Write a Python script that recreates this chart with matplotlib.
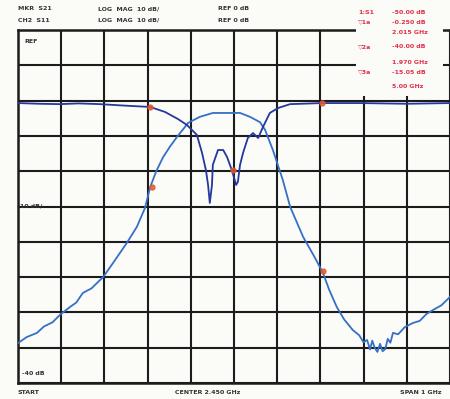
import matplotlib
matplotlib.use('Agg')
import matplotlib.pyplot as plt
from matplotlib.patches import Rectangle
import numpy as np

# frequency axis in graticule divisions (0..10), level in dB (10 dB/div, ref at top)
s21_x = [0.00, 0.20, 0.44, 0.60, 0.80, 0.97, 1.20, 1.35, 1.50, 1.70, 1.97, 2.20, 2.52,
         2.75, 2.94, 3.06, 3.20, 3.36, 3.52, 3.68, 3.94, 4.21, 4.51, 4.91, 5.14, 5.37,
         5.60, 5.72, 5.90, 6.13, 6.30, 6.60, 6.85, 7.06, 7.20, 7.38, 7.55, 7.75, 7.90,
         8.00, 8.08, 8.15, 8.20, 8.26, 8.32, 8.38, 8.44, 8.50, 8.56, 8.62, 8.68, 8.80,
         8.95, 9.14, 9.30, 9.45, 9.61, 9.80, 10.00]
s21_db = [-88.7, -87.0, -85.8, -84.0, -82.8, -80.7, -78.5, -77.2, -74.5, -73.2, -70.0,
          -66.0, -60.3, -55.8, -50.4, -44.5, -40.0, -36.0, -33.0, -30.3, -26.3, -24.6,
          -23.5, -23.5, -23.5, -24.6, -26.1, -28.3, -34.0, -42.5, -50.1, -58.6, -64.0,
          -68.8, -73.5, -78.5, -82.0, -85.0, -86.5, -88.5, -87.8, -90.5, -88.0, -90.1,
          -91.2, -88.9, -91.0, -90.4, -87.5, -88.6, -85.8, -86.2, -84.2, -83.0, -82.4,
          -80.5, -79.3, -78.0, -75.6]

s11_x = [0.00, 0.50, 0.97, 1.40, 1.90, 2.30, 2.59, 3.06, 3.40, 3.70, 3.91, 4.14, 4.26,
         4.35, 4.40, 4.44, 4.49, 4.51, 4.63, 4.75, 4.84, 4.95, 5.05, 5.09, 5.14, 5.21,
         5.32, 5.44, 5.56, 5.67, 5.83, 6.02, 6.30, 7.04, 7.92, 9.00, 10.00]
s11_db = [-20.7, -20.9, -21.0, -20.8, -21.0, -21.3, -21.5, -21.8, -23.2, -25.2, -26.9,
          -29.7, -34.8, -39.7, -43.9, -49.0, -43.9, -38.2, -34.0, -34.0, -36.0, -39.7,
          -43.9, -43.0, -38.2, -34.8, -30.6, -29.2, -30.6, -27.5, -23.5, -22.1, -21.0,
          -20.7, -20.7, -20.9, -20.7]

mkr_x = [3.06, 7.04, 3.10, 4.98, 7.06]
mkr_db = [-21.8, -20.7, -44.5, -39.7, -68.3]

mkr_names = ['1:S1', '\u25bd1a', '', '\u25bd2a', '', '\u25bd3a', '']
mkr_vals = ['-50.00 dB', '-0.250 dB', '2.015 GHz', '-40.00 dB', '1.970 GHz',
            '-15.05 dB', '5.00 GHz']

W, H = 450, 399
fig = plt.figure(figsize=(W / 100, H / 100), dpi=100, facecolor='#fbfbf8')
ax = fig.add_axes([18 / W, (H - 383) / H, 432 / W, 353 / H])
ax.set_facecolor('#fbfbf8')

ax.set_xlim(0, 10)
ax.set_ylim(-100, 0)
ax.set_xticks(np.arange(0, 11, 1))
ax.set_yticks(np.arange(-100, 1, 10))
ax.grid(True, color='#1c1c1c', linewidth=1.5)
ax.tick_params(length=0, labelbottom=False, labelleft=False)
for s in ax.spines.values():
    s.set_color('#1c1c1c')
    s.set_linewidth(1.8)

ax.plot(s21_x, s21_db, color='#3670c6', lw=1.3, zorder=3)
ax.plot(s11_x, s11_db, color='#26379e', lw=1.3, zorder=4)
ax.plot(mkr_x, mkr_db, 'o', color='#e2582e', ms=3.5, zorder=5, alpha=0.85)

# on-screen annotations
ax.text(0.15, -2.5, 'REF', fontsize=4.5, weight='bold', color='#333333', va='top')
ax.text(0.05, -50.0, '10 dB/', fontsize=4.5, weight='bold', color='#333333', va='center')
ax.text(0.10, -98.0, '-40 dB', fontsize=4.5, weight='bold', color='#333333', va='bottom')

# header lines above the graticule
hdr = dict(fontsize=4.5, weight='bold', color='#333333', va='center')
fig.text(18 / W, 1 - 9 / H, 'MKR  S21', **hdr)
fig.text(98 / W, 1 - 9 / H, 'LOG  MAG  10 dB/', **hdr)
fig.text(218 / W, 1 - 9 / H, 'REF 0 dB', **hdr)
fig.text(18 / W, 1 - 20 / H, 'CH2  S11', **hdr)
fig.text(98 / W, 1 - 20 / H, 'LOG  MAG  10 dB/', **hdr)
fig.text(218 / W, 1 - 20 / H, 'REF 0 dB', **hdr)

# footer
fig.text(18 / W, 1 - 392 / H, 'START', **hdr)
fig.text(175 / W, 1 - 392 / H, 'CENTER 2.450 GHz', **hdr)
fig.text(400 / W, 1 - 392 / H, 'SPAN 1 GHz', **hdr)

# marker readout block (covers top right of graticule)
fig.patches.append(Rectangle((356 / W, 1 - 96 / H), 87 / W, 96 / H,
                             transform=fig.transFigure, facecolor='#fbfbf8',
                             edgecolor='none', zorder=2))
rows_y = [12, 22, 33, 47, 62, 72, 87]
for name, val, yy in zip(mkr_names, mkr_vals, rows_y):
    fig.text(358 / W, 1 - yy / H, name, fontsize=4.5, weight='bold',
             color='#e0304a', va='center', zorder=3)
    fig.text(392 / W, 1 - yy / H, val, fontsize=4.5, weight='bold',
             color='#e0304a', va='center', zorder=3)

fig.savefig('out.png', dpi=100, facecolor=fig.get_facecolor())
